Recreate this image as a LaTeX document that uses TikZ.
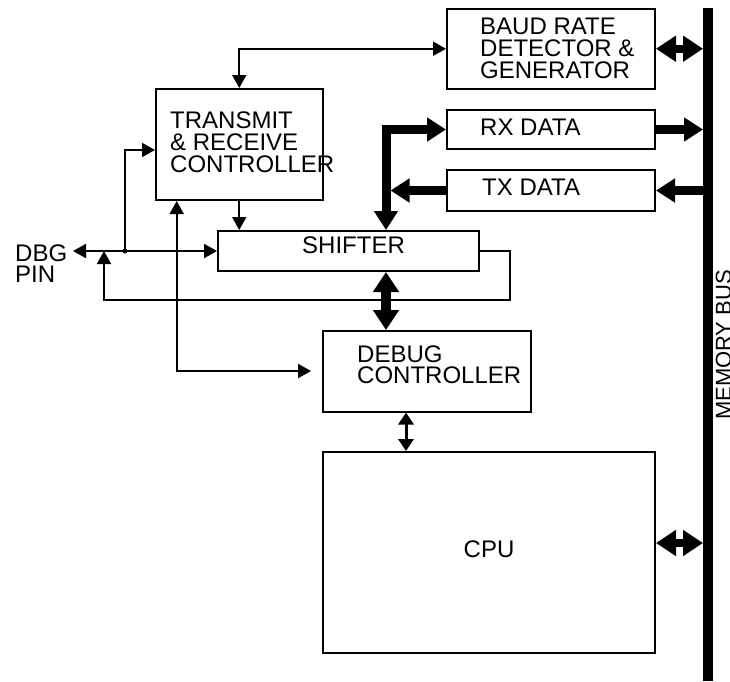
\documentclass[tikz,border=0pt]{standalone}
\usepackage{fontspec}
\setmainfont{Liberation Sans}
\usetikzlibrary{arrows.meta}
\begin{document}
\begin{tikzpicture}[x=1pt,y=-1pt,
  box/.style={draw,line width=2pt,inner sep=0pt},
  lbl/.style={inner sep=0pt,anchor=base west,font=\fontsize{24}{22}\selectfont},
  sig/.style={line width=2pt,-{Triangle[length=13pt,width=14pt]}},
  sigboth/.style={line width=2pt,{Triangle[length=13pt,width=14pt]}-{Triangle[length=13pt,width=14pt]}},
  thk/.style={line width=9pt,-{Triangle[length=19pt,width=23pt]}},
  thkboth/.style={line width=9pt,{Triangle[length=19pt,width=23pt]}-{Triangle[length=19pt,width=23pt]}},
  dbl/.style={line width=8pt,{Triangle[length=20pt,width=25pt]}-{Triangle[length=20pt,width=25pt]}},
  dblthin/.style={line width=3pt,{Triangle[length=12pt,width=15pt]}-{Triangle[length=12pt,width=15pt]}}
]
\useasboundingbox (0,0) rectangle (730,681);

% boxes
\node[box,minimum width=208pt,minimum height=80.5pt] (baud) at (551,48.75) {};
\node[box,minimum width=166.5pt,minimum height=111pt] (trx) at (239.25,144.5) {};
\node[box,minimum width=208pt,minimum height=39pt] (rx) at (551,129.5) {};
\node[box,minimum width=208pt,minimum height=41pt] (tx) at (551,190.5) {};
\node[box,minimum width=261pt,minimum height=40pt] (shifter) at (348.5,251) {};
\node[box,minimum width=208.5pt,minimum height=80.5pt] (debug) at (426.75,371.25) {};
\node[box,minimum width=332.5pt,minimum height=200.5pt] (cpu) at (488.75,552.25) {};

% texts
\node[lbl] (b1) at (480,34) {BAUD RATE};
\node[lbl] (b2) at (480,56) {DETECTOR \&};
\node[lbl] (b3) at (480,78) {GENERATOR};
\node[lbl] (t1) at (170,128) {TRANSMIT};
\node[lbl] (t2) at (170,150) {\& RECEIVE};
\node[lbl] (t3) at (170,172) {CONTROLLER};
\node[lbl] (rxt) at (480,135) {RX DATA};
\node[lbl] (txt) at (482,195) {TX DATA};
\node[lbl] (sht) at (302,253) {SHIFTER};
\node[lbl] (d1) at (357,362) {DEBUG};
\node[lbl] (d2) at (357,383.5) {CONTROLLER};
\node[lbl,anchor=base] (cput) at (489,557) {CPU};
\node[lbl] (dbg1) at (15,261) {DBG};
\node[lbl] (dbg2) at (15,282) {PIN};
\node[inner sep=0pt,anchor=base,rotate=90,font=\fontsize{22}{22}\selectfont] (mbus) at (731,345) {MEMORY BUS};

% coordinates
\coordinate (bt) at (708,8);
\coordinate (bb) at (708,681);
\coordinate (busl) at (703,0);
\coordinate (jn) at (125,251);
\coordinate (ytr) at (0,150);
\coordinate (dbg) at (73,251);
\coordinate (fb1) at (510,300);
\coordinate (fbend) at (104,251);
\coordinate (vx) at (176.7,371);
\coordinate (tk) at (386,0);
\coordinate (tkr) at (390.5,0);
\coordinate (dc) at (406,0);
\coordinate (cy) at (0,543);

% memory bus
\draw[line width=10pt] (bt) -- (bb);

% thin connectors
\draw[sigboth] (baud.west) -| (trx.north);
\draw[sig] (trx.south) -- (trx.south |- shifter.north);
\draw[sigboth] (dbg) -- (shifter.west);
\fill (jn) circle (2.5pt);
\draw[sig] (jn) |- (trx.west |- ytr);
\draw[sig] (shifter.east) -| (fb1) -| (fbend);
\draw[sigboth,shorten >=10.5pt] (trx.south -| vx) -- (vx) -- (debug.west |- vx);
\draw[dblthin] (debug.south -| dc) -- (cpu.north -| dc);

% thick connectors
\draw[thkboth] (rx.west) -| (shifter.north -| tk);
\draw[thk] (tx.west) -- (tx.west -| tkr);
\draw[dbl,line width=10pt] (shifter.south -| tk) -- (debug.north -| tk);
\draw[thk] (rx.east) -- (rx.east -| busl);
\draw[thk] (tx.east -| busl) -- (tx.east);
\draw[dbl] (baud.east) -- (baud.east -| busl);
\draw[dbl] (cpu.east |- cy) -- (busl |- cy);
\end{tikzpicture}
\end{document}
